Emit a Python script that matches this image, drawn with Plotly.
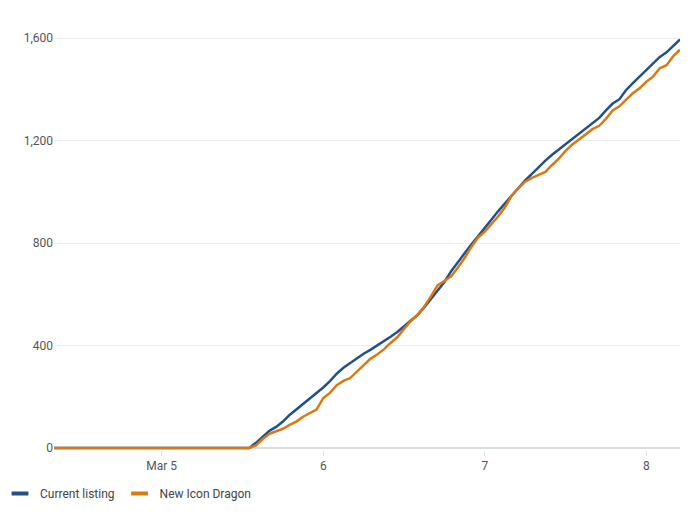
import pandas as pd
import plotly.graph_objects as go

# Hourly timestamps: Mar 4 08:00 -> Mar 8 05:00
start_time = "2024-03-04 08:00"
n_hours = 94

current_listing = [0] * 30 + [
    20, 45, 67, 82, 103, 129, 150, 172, 195, 216,
    236, 261, 290, 313, 332, 351, 368, 383, 400, 415,
    434, 453, 474, 495, 519, 549, 581, 617, 648, 690,
    727, 760, 794, 828, 860, 892, 925, 955, 988, 1016,
    1045, 1070, 1098, 1122, 1145, 1166, 1187, 1206, 1226, 1248,
    1268, 1289, 1318, 1345, 1362, 1398, 1425, 1450, 1475, 1500,
    1527, 1545, 1570, 1595,
]
new_icon_dragon = [0] * 30 + [
    10, 35, 55, 65, 75, 90, 103, 122, 135, 150,
    195, 215, 245, 262, 273, 298, 325, 348, 365, 385,
    410, 432, 465, 495, 520, 552, 592, 636, 652, 670,
    705, 742, 785, 822, 845, 875, 905, 940, 985, 1015,
    1040, 1055, 1065, 1078, 1105, 1130, 1160, 1185, 1205, 1225,
    1245, 1258, 1285, 1318, 1334, 1360, 1385, 1405, 1430, 1450,
    1483, 1495, 1530, 1555,
]

series_names = ["Current listing", "New Icon Dragon"]
series_colors = ["#22508a", "#dc7812"]

x_tick_vals = ["2024-03-05", "2024-03-06", "2024-03-07", "2024-03-08"]
x_tick_text = ["Mar 5", "6", "7", "8"]
y_tick_vals = [0, 400, 800, 1200, 1600]
y_tick_text = ["0", "400", "800", "1,200", "1,600"]

times = pd.date_range(start_time, periods=n_hours, freq="h")

fig = go.Figure()
for name, vals, col in zip(series_names, [current_listing, new_icon_dragon], series_colors):
    fig.add_trace(go.Scatter(x=times, y=vals, mode="lines", name=name,
                             line=dict(color=col, width=2.5), showlegend=False,
                             hoverinfo="x+y+name"))
    # legend entry with a short line symbol
    fig.add_trace(go.Scatter(x=[None], y=[None], mode="markers", name=name,
                             marker=dict(symbol="line-ew-open", size=12, color=col,
                                         line=dict(color=col, width=4)),
                             showlegend=True))

FIG_W, FIG_H = 686, 524  # page body has an 8px margin
ML, MR, MT, MB = 46, 14, 20, 82
PW, PH = FIG_W - ML - MR, FIG_H - MT - MB

fig.update_layout(
    width=FIG_W, height=FIG_H,
    margin=dict(l=ML, r=MR, t=MT, b=MB, autoexpand=False),
    paper_bgcolor="white", plot_bgcolor="white",
    font=dict(family="Roboto, Arial, sans-serif", size=12, color="#555"),
    legend=dict(orientation="h",
                x=(-8 - ML) / PW, xanchor="left",
                y=-(471 - (FIG_H - MB)) / PH, yanchor="top",
                font=dict(size=12, color="#444"), itemwidth=30,
                bgcolor="rgba(0,0,0,0)"),
)
fig.update_xaxes(
    range=[times[0], times[-1]],
    tickvals=x_tick_vals, ticktext=x_tick_text,
    showgrid=False, ticks="outside", ticklen=5, tickcolor="#e0e0e0",
    showline=False, zeroline=False,
    tickfont=dict(size=12, color="#555"),
)
fig.update_yaxes(
    range=[-8, 1640],
    tickvals=y_tick_vals, ticktext=y_tick_text,
    showgrid=True, gridcolor="#ececec", gridwidth=1,
    zeroline=True, zerolinecolor="#dcdcdc", zerolinewidth=2,
    ticks="", tickfont=dict(size=12, color="#555"),
)

fig.write_html("out.html")
